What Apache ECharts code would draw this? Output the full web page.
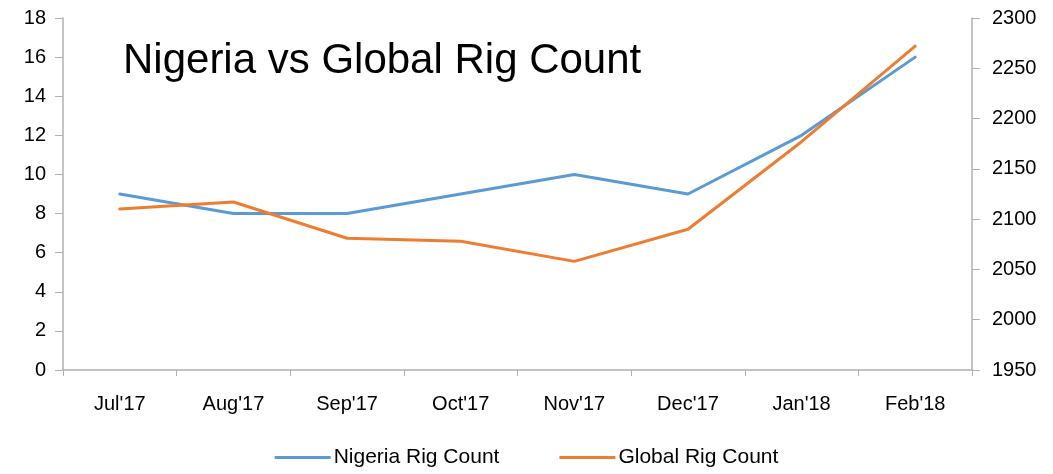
<!DOCTYPE html>
<html>
<head>
<meta charset="utf-8">
<script src="https://cdn.jsdelivr.net/npm/echarts@6/dist/echarts.min.js"></script>
<style>
  html, body { margin: 0; padding: 0; background: #fff; }
  #main { width: 1053px; height: 474px; }
</style>
</head>
<body>
<div id="main"></div>
<script>
var months = ["Jul'17", "Aug'17", "Sep'17", "Oct'17", "Nov'17", "Dec'17", "Jan'18", "Feb'18"];
var nigeriaRigs = [9, 8, 8, 9, 10, 9, 12, 16];
var globalRigs = [2110, 2117, 2081, 2078, 2058, 2090, 2177, 2272];

var dom = document.getElementById("main");
var chart = echarts.init(dom);

var font = "'Liberation Sans', Arial, sans-serif";
var axisGray = "#b0b0b0";

chart.setOption({
  animation: false,
  textStyle: { fontFamily: font },
  title: {
    text: "Nigeria vs Global Rig Count",
    left: 118,
    top: 35,
    textStyle: { fontSize: 42, fontWeight: "normal", color: "#000", fontFamily: font },
  },
  legend: {
    bottom: 1,
    left: "center",
    itemWidth: 56,
    itemHeight: 3,
    itemGap: 60,
    icon: "rect",
    textStyle: { fontSize: 21, color: "#000", fontFamily: font, padding: [0, 0, 0, -2] },
    data: ["Nigeria Rig Count", "Global Rig Count"],
  },
  grid: { left: 63, right: 81, top: 18, bottom: 104 },
  xAxis: {
    type: "category",
    data: months,
    boundaryGap: true,
    axisLine: { lineStyle: { color: axisGray, width: 1.5 } },
    axisTick: { show: true, length: 6, alignWithLabel: false, lineStyle: { color: axisGray } },
    axisLabel: { fontSize: 20, color: "#000", margin: 24 },
  },
  yAxis: [
    {
      type: "value",
      min: 0,
      max: 18,
      interval: 2,
      splitLine: { show: false },
      axisLine: { show: true, lineStyle: { color: axisGray, width: 1.5 } },
      axisTick: { show: true, length: 8, lineStyle: { color: axisGray } },
      axisLabel: { fontSize: 20, color: "#000", margin: 17 },
    },
    {
      type: "value",
      min: 1950,
      max: 2300,
      interval: 50,
      position: "right",
      splitLine: { show: false },
      axisLine: { show: true, lineStyle: { color: axisGray, width: 1.5 } },
      axisTick: { show: true, length: 8, lineStyle: { color: axisGray } },
      axisLabel: {
        fontSize: 20,
        color: "#000",
        margin: 20,
        formatter: function (v) { return String(v); },
      },
    },
  ],
  series: [
    {
      name: "Nigeria Rig Count",
      type: "line",
      yAxisIndex: 0,
      data: nigeriaRigs,
      showSymbol: false,
      symbol: "none",
      color: "#5b9bd5",
      lineStyle: { width: 3, color: "#5b9bd5", cap: "round" },
    },
    {
      name: "Global Rig Count",
      type: "line",
      yAxisIndex: 1,
      data: globalRigs,
      showSymbol: false,
      symbol: "none",
      color: "#ed7d31",
      lineStyle: { width: 3, color: "#ed7d31", cap: "round" },
    },
  ],
});
</script>
</body>
</html>
